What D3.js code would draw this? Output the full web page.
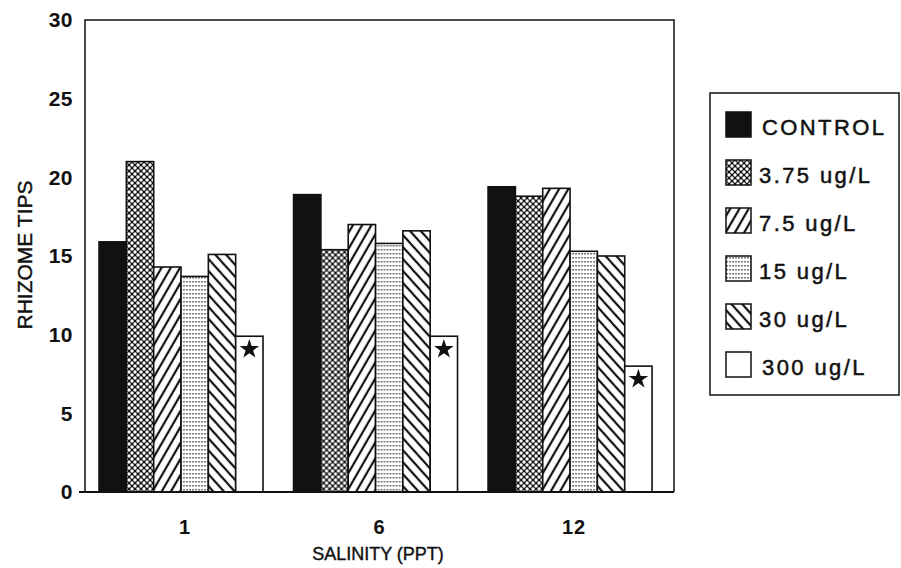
<!DOCTYPE html>
<html>
<head>
<meta charset="utf-8">
<script src="https://cdn.jsdelivr.net/npm/d3@7"></script>
<style>
  body { margin: 0; background: #fff; }
  text { font-family: "Liberation Sans", Arial, sans-serif; fill: #111; }
</style>
</head>
<body>
<div id="chart"></div>
<script>
// data
const salinity = ['1', '6', '12'];
const treatments = ['CONTROL', '3.75 ug/L', '7.5 ug/L', '15 ug/L', '30 ug/L', '300 ug/L'];
const salinity1 = [15.9, 21.0, 14.3, 13.7, 15.1, 9.9];
const salinity6 = [18.9, 15.4, 17.0, 15.8, 16.6, 9.9];
const salinity12 = [19.4, 18.8, 19.3, 15.3, 15.0, 8.0];
const significant = [false, false, false, false, false, true];
const yTicks = [0, 5, 10, 15, 20, 25, 30];

const values = [salinity1, salinity6, salinity12];

const width = 901;
const height = 568;
const plot = { left: 85, right: 674, top: 20, bottom: 492 };

const svg = d3.select('#chart')
  .append('svg')
  .attr('width', width)
  .attr('height', height);

// fill patterns
const defs = svg.append('defs');

let p = defs.append('pattern').attr('id', 'p1')
  .attr('patternUnits', 'userSpaceOnUse').attr('width', 6).attr('height', 6);
p.append('rect').attr('width', 6).attr('height', 6).attr('fill', '#111');
[[0, 0], [6, 0], [0, 6], [6, 6], [3, 3]].forEach(([cx, cy]) => {
  p.append('circle').attr('cx', cx).attr('cy', cy).attr('r', 1.7).attr('fill', '#fff');
});

p = defs.append('pattern').attr('id', 'p2')
  .attr('patternUnits', 'userSpaceOnUse').attr('width', 8).attr('height', 8)
  .attr('patternTransform', 'rotate(30)');
p.append('rect').attr('width', 8).attr('height', 8).attr('fill', '#fff');
p.append('line').attr('x1', 4).attr('y1', 0).attr('x2', 4).attr('y2', 8)
  .attr('stroke', '#111').attr('stroke-width', 2.2);

p = defs.append('pattern').attr('id', 'p3')
  .attr('patternUnits', 'userSpaceOnUse').attr('width', 3).attr('height', 4);
p.append('rect').attr('width', 3).attr('height', 4).attr('fill', '#fff');
p.append('rect').attr('x', 0).attr('y', 1).attr('width', 2).attr('height', 1.5).attr('fill', '#777');

p = defs.append('pattern').attr('id', 'p4')
  .attr('patternUnits', 'userSpaceOnUse').attr('width', 8).attr('height', 8)
  .attr('patternTransform', 'rotate(-42)');
p.append('rect').attr('width', 8).attr('height', 8).attr('fill', '#fff');
p.append('line').attr('x1', 4).attr('y1', 0).attr('x2', 4).attr('y2', 8)
  .attr('stroke', '#111').attr('stroke-width', 2.2);

const fills = ['#111', 'url(#p1)', 'url(#p2)', 'url(#p3)', 'url(#p4)', '#fff'];

// scales
const x0 = d3.scaleBand()
  .domain(salinity)
  .range([plot.left, plot.right])
  .paddingInner(0.157)
  .paddingOuter(0.0925)
  .align(0.39);

const x1 = d3.scaleBand()
  .domain(treatments)
  .range([0, x0.bandwidth()]);

const y = d3.scaleLinear()
  .domain([0, 30])
  .range([plot.bottom, plot.top]);

// bars
const groups = svg.append('g')
  .selectAll('g')
  .data(salinity)
  .join('g')
  .attr('transform', (d) => `translate(${x0(d)},0)`);

groups.selectAll('rect')
  .data((d, i) => treatments.map((t, j) => ({ t, v: values[i][j], j })))
  .join('rect')
  .attr('x', (d) => x1(d.t))
  .attr('y', (d) => y(d.v))
  .attr('width', x1.bandwidth())
  .attr('height', (d) => y(0) - y(d.v))
  .attr('fill', (d) => fills[d.j])
  .attr('stroke', '#111')
  .attr('stroke-width', 1.6);

groups.selectAll('path.star')
  .data((d, i) => treatments.map((t, j) => ({ t, v: values[i][j], j })).filter((d) => significant[d.j]))
  .join('path')
  .attr('class', 'star')
  .attr('d', d3.symbol(d3.symbolStar, 120))
  .attr('transform', (d) => `translate(${x1(d.t) + x1.bandwidth() / 2},${y(d.v) + 13})`)
  .attr('fill', '#111');

// frame
svg.append('path')
  .attr('d', `M${plot.left},${plot.bottom}V${plot.top}H${plot.right}V${plot.bottom}`)
  .attr('fill', 'none')
  .attr('stroke', '#111')
  .attr('stroke-width', 1.5);

svg.append('line')
  .attr('x1', plot.left - 6).attr('x2', plot.right)
  .attr('y1', plot.bottom).attr('y2', plot.bottom)
  .attr('stroke', '#111').attr('stroke-width', 2);

// y axis
const yAxis = svg.append('g')
  .attr('transform', `translate(${plot.left},0)`)
  .call(d3.axisLeft(y).tickValues(yTicks).tickSize(0).tickPadding(12));
yAxis.select('.domain').remove();
yAxis.selectAll('text')
  .style('font-family', '"Liberation Sans", Arial, sans-serif')
  .style('font-size', '21px')
  .style('font-weight', 'bold')
  .style('letter-spacing', '0.5px')
  .attr('fill', '#111');

// x axis
const xAxis = svg.append('g')
  .attr('transform', `translate(0,${plot.bottom})`)
  .call(d3.axisBottom(x0).tickSize(0).tickPadding(28));
xAxis.select('.domain').remove();
xAxis.selectAll('text')
  .attr('dx', 4)
  .style('font-family', '"Liberation Sans", Arial, sans-serif')
  .style('font-size', '20px')
  .style('font-weight', 'bold')
  .style('letter-spacing', '1px')
  .attr('fill', '#111');

svg.append('text')
  .attr('x', 378)
  .attr('y', 560)
  .attr('text-anchor', 'middle')
  .style('font-size', '18px')
  .style('stroke', '#111')
  .style('stroke-width', '0.4px')
  .text('SALINITY (PPT)');

svg.append('text')
  .attr('transform', 'translate(32,255) rotate(-90)')
  .attr('text-anchor', 'middle')
  .style('font-size', '21px')
  .style('stroke', '#111')
  .style('stroke-width', '0.4px')
  .text('RHIZOME TIPS');

// legend
const legend = svg.append('g');
legend.append('rect')
  .attr('x', 710).attr('y', 93)
  .attr('width', 189).attr('height', 302)
  .attr('fill', 'none')
  .attr('stroke', '#111')
  .attr('stroke-width', 1.5);

const items = legend.selectAll('g.item')
  .data(treatments)
  .join('g')
  .attr('class', 'item')
  .attr('transform', (d, i) => `translate(726,${112 + i * 48})`);

items.append('rect')
  .attr('width', 25)
  .attr('height', 25)
  .attr('fill', (d, i) => fills[i])
  .attr('stroke', '#111')
  .attr('stroke-width', 1.5);

items.append('text')
  .attr('x', (d, i) => (i === 0 || i === 5 ? 36 : 33))
  .attr('y', 23)
  .style('font-size', '22px')
  .style('letter-spacing', '2.4px')
  .style('stroke', '#111')
  .style('stroke-width', '0.5px')
  .text((d) => d);
</script>
</body>
</html>
